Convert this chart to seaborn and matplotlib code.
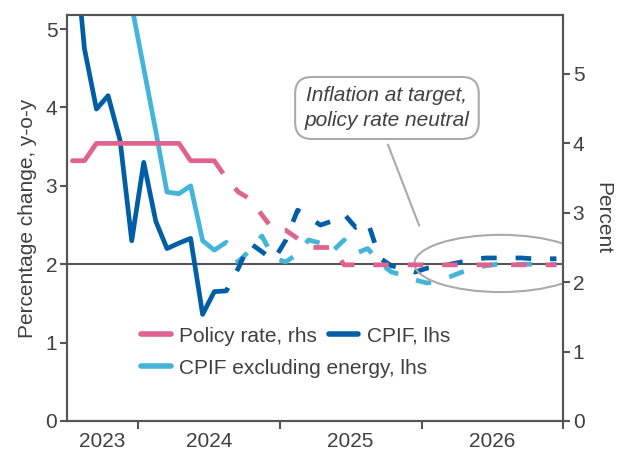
import matplotlib
matplotlib.use("Agg")
import matplotlib.pyplot as plt
import matplotlib.dates as mdates
from matplotlib.patches import Ellipse
from matplotlib.lines import Line2D
import seaborn as sns
import pandas as pd

# monthly data, outcome Jul 2023 - Jul 2024, forecast Aug 2024 - Dec 2026
outcome_dates = pd.date_range("2023-07-01", "2024-07-01", freq="MS") + pd.Timedelta(days=14)
forecast_dates = pd.date_range("2024-07-01", "2026-12-01", freq="MS") + pd.Timedelta(days=14)

policy_out = [3.75, 3.75, 4.0, 4.0, 4.0, 4.0, 4.0, 4.0, 4.0, 4.0, 3.75, 3.75, 3.75]
cpif_out = [6.4, 4.75, 3.98, 4.15, 3.58, 2.3, 3.3, 2.55, 2.2, 2.27, 2.33, 1.36, 1.65]
cpifxe_out = [8.0, 7.2, 6.9, 6.1, 5.8, 5.3, 4.5, 3.7, 2.92, 2.9, 3.0, 2.3, 2.18]

# forecasts start with the last outcome (Jul 2024)
policy_fc = [3.75, 3.5, 3.3, 3.2, 2.97, 2.75,
             2.75, 2.63, 2.5, 2.5, 2.5, 2.25, 2.25, 2.25, 2.25, 2.25, 2.25, 2.25,
             2.25, 2.25, 2.25, 2.25, 2.25, 2.25, 2.25, 2.25, 2.25, 2.25, 2.25, 2.25]
cpif_fc = [1.65, 1.66, 1.95, 2.27, 2.16, 2.05,
           2.3, 2.69, 2.6, 2.5, 2.55, 2.64, 2.47, 2.54, 2.08, 1.98, 1.95, 1.9,
           1.95, 1.96, 2.0, 2.03, 2.06, 2.08, 2.08, 2.08, 2.08, 2.07, 2.07, 2.07]
cpifxe_fc = [2.18, 2.28, 2.03, 2.18, 2.36, 2.08,
             2.03, 2.13, 2.31, 2.27, 2.16, 2.31, 2.14, 2.2, 2.02, 1.9, 1.86, 1.8,
             1.76, 1.79, 1.84, 1.9, 1.95, 1.98, 2.0, 2.0, 2.0, 2.0, 2.0, 2.0]

year_labels = ["2023", "2024", "2025", "2026"]

PINK = "#E0628F"
DARK = "#005EA6"
LIGHT = "#44B5D9"
TXT = "#404040"
GREY = "#555555"

sns.set_theme(style="white")
plt.rcParams["font.family"] = ["Liberation Sans", "DejaVu Sans"]
plt.rcParams["font.size"] = 15

fig = plt.figure(figsize=(6.17, 4.57), dpi=100)
ax = fig.add_axes([0.1086, 0.0788, 0.8039, 0.8884])
ax2 = ax.twinx()

lw = 3.4
dash = (0, (3.3, 4.0))

ax.axhline(2, color=GREY, lw=1.5, zorder=1)

sns.lineplot(x=outcome_dates, y=cpifxe_out, ax=ax, color=LIGHT, lw=lw)
sns.lineplot(x=forecast_dates, y=cpifxe_fc, ax=ax, color=LIGHT, lw=lw, linestyle=dash)
sns.lineplot(x=outcome_dates, y=cpif_out, ax=ax, color=DARK, lw=lw)
sns.lineplot(x=forecast_dates, y=cpif_fc, ax=ax, color=DARK, lw=lw, linestyle=dash)
sns.lineplot(x=outcome_dates, y=policy_out, ax=ax2, color=PINK, lw=lw)
sns.lineplot(x=forecast_dates, y=policy_fc, ax=ax2, color=PINK, lw=lw, linestyle=dash)

ax.set_xlim(pd.Timestamp("2023-07-01"), pd.Timestamp("2027-01-01"))
ax.set_ylim(0, 5.18)
ax2.set_ylim(0, 5.85)
ax.set_yticks(range(6))
ax2.set_yticks(range(6))

# year boundaries as ticks, year names between them
ax.set_xticks([pd.Timestamp(f"{y}-01-01") for y in (2024, 2025, 2026, 2027)])
ax.set_xticklabels([])
ax.set_xticks([pd.Timestamp("2023-10-01"), pd.Timestamp("2024-07-01"),
               pd.Timestamp("2025-07-01"), pd.Timestamp("2026-07-01")], minor=True)
ax.set_xticklabels(year_labels, minor=True)
ax.tick_params(axis="x", which="major", length=6, width=1.5, color=GREY, direction="out", bottom=True)
ax.tick_params(axis="x", which="minor", length=0, pad=8, labelsize=15, labelcolor=TXT)
ax.tick_params(axis="y", length=5, width=1.5, color=GREY, left=True, pad=2, labelsize=15, labelcolor=TXT)
ax2.tick_params(axis="y", length=5, width=1.5, color=GREY, right=True, pad=2, labelsize=15, labelcolor=TXT)

for a in (ax, ax2):
    for s in a.spines.values():
        s.set_color(GREY)
        s.set_linewidth(1.5)

ax.set_xlabel("")
ax.set_ylabel("Percentage change, y-o-y", fontsize=15, color=TXT, labelpad=6)
ax2.set_ylabel("Percent", fontsize=15, color=TXT, rotation=-90, labelpad=20)

# annotation
ell_x = mdates.date2num(pd.Timestamp("2026-07-24"))
ax.add_patch(Ellipse((ell_x, 2.01), width=445, height=0.73, fill=False,
                     edgecolor="#AAAAAA", lw=1.5, zorder=2))
ax2.annotate("", xy=(0.712, 0.475), xytext=(0.645, 0.687),
             xycoords="axes fraction", textcoords="axes fraction",
             arrowprops=dict(arrowstyle="-", color="#AAAAAA", lw=1.5))
ax2.text(0.645, 0.771, "Inflation at target,\npolicy rate neutral", transform=ax2.transAxes,
         ha="center", va="center", fontsize=15, style="italic", color=TXT, linespacing=1.35,
         bbox=dict(boxstyle="round,pad=0.45,rounding_size=0.8", fc="white", ec="#AAAAAA", lw=1.5))

# legend: first row two entries, second row one
h_pol = Line2D([], [], color=PINK, lw=4)
h_cpif = Line2D([], [], color=DARK, lw=4)
h_xe = Line2D([], [], color=LIGHT, lw=4)
leg1 = ax2.legend([h_pol, h_cpif], ["Policy rate, rhs", "CPIF, lhs"], ncol=2,
                  loc="center left", bbox_to_anchor=(0.15, 0.209), frameon=False,
                  handlelength=1.4, handletextpad=0.4, columnspacing=0.6,
                  borderpad=0, borderaxespad=0, fontsize=15, labelcolor=TXT)
ax2.add_artist(leg1)
ax2.legend([h_xe], ["CPIF excluding energy, lhs"], loc="center left",
           bbox_to_anchor=(0.15, 0.13), frameon=False, handlelength=1.4,
           handletextpad=0.4, borderpad=0, borderaxespad=0, fontsize=15, labelcolor=TXT)

fig.savefig("out.png", dpi=100)
